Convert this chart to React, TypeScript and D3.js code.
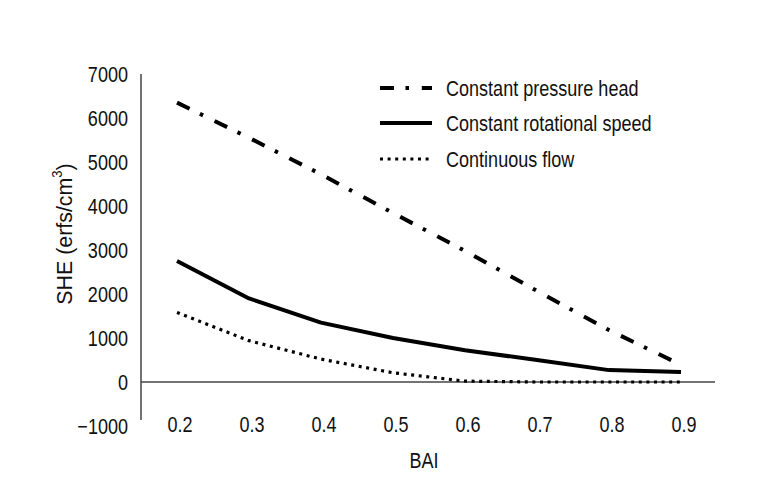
import React from "react";
import * as d3 from "d3";

const bai = [0.2, 0.3, 0.4, 0.5, 0.6, 0.7, 0.8, 0.9];
const pressureHead = [6350, 5550, 4720, 3840, 2980, 2070, 1180, 390];
const rotationalSpeed = [2750, 1900, 1350, 1000, 720, 500, 270, 230];
const continuousFlow = [1580, 940, 520, 210, 20, 0, 0, 0];
const yTicks = [7000, 6000, 5000, 4000, 3000, 2000, 1000, 0, -1000];
const xTickLabels = ["0.2", "0.3", "0.4", "0.5", "0.6", "0.7", "0.8", "0.9"];
const seriesNames = ["Constant pressure head", "Constant rotational speed", "Continuous flow"];

const FONT = "'Liberation Sans', Arial, sans-serif";
const TEXT = "#111";
const SX = 0.82;

function NText(props: {
  x: number;
  y: number;
  anchor?: "start" | "middle" | "end";
  size?: number;
  rotate?: number;
  sx?: number;
  children: React.ReactNode;
}) {
  const { x, y, anchor = "start", size = 22, rotate = 0, sx = SX, children } = props;
  return (
    <text
      transform={`translate(${x},${y}) rotate(${rotate}) scale(${sx},1)`}
      textAnchor={anchor}
      dominantBaseline="central"
      fontSize={size}
      fill={TEXT}
    >
      {children}
    </text>
  );
}

export default function App() {
  const x = d3.scaleLinear().domain([0.2, 0.9]).range([177, 681]);
  const y = d3.scaleLinear().domain([0, 7000]).range([382, 74]);

  const mk = (vals: number[]) =>
    d3
      .line<number>()
      .x((_, i) => x(bai[i]))
      .y((v) => y(v))(vals) as string;

  const styles = [
    { dash: "14 11.5 3.5 12.8", width: 4 },
    { dash: "none", width: 4 },
    { dash: "3 4.6", width: 3.2 },
  ];
  const data = [pressureHead, rotationalSpeed, continuousFlow];

  const axisX0 = 141;
  const legendY = [88, 123, 159];

  return (
    <svg
      width={768}
      height={480}
      style={{ position: "absolute", left: 0, top: 0, background: "#fff" }}
      fontFamily={FONT}
    >
      {/* axes */}
      <line x1={axisX0} x2={axisX0} y1={y(7000)} y2={y(-1000) - 6} stroke="#444" strokeWidth={1.5} />
      <line x1={axisX0} x2={715} y1={y(0)} y2={y(0)} stroke="#444" strokeWidth={1.5} />

      {yTicks.map((t) => (
        <NText key={t} x={128} y={y(t)} anchor="end">
          {t < 0 ? "\u2212" + Math.abs(t) : String(t)}
        </NText>
      ))}

      {bai.map((b, i) => (
        <NText key={b} x={x(b) + 3} y={424} anchor="middle">
          {xTickLabels[i]}
        </NText>
      ))}

      <NText x={424} y={460} anchor="middle">
        BAI
      </NText>

      <NText x={64} y={234} anchor="middle" rotate={-90} size={23} sx={0.93}>
        SHE (erfs/cm
        <tspan fontSize={14} dy={-7}>
          3
        </tspan>
        <tspan dy={7}>)</tspan>
      </NText>

      {/* series */}
      {data.map((vals, i) => (
        <path
          key={i}
          d={mk(vals)}
          fill="none"
          stroke="#000"
          strokeWidth={styles[i].width}
          strokeDasharray={styles[i].dash}
          strokeLinecap="butt"
          strokeLinejoin="round"
        />
      ))}

      {/* legend */}
      {seriesNames.map((name, i) => (
        <g key={name}>
          <line
            x1={380}
            x2={432}
            y1={legendY[i]}
            y2={legendY[i]}
            stroke="#000"
            strokeWidth={styles[i].width}
            strokeDasharray={styles[i].dash}
            strokeLinecap="butt"
          />
          <NText x={446} y={legendY[i]}>
            {name}
          </NText>
        </g>
      ))}
    </svg>
  );
}
